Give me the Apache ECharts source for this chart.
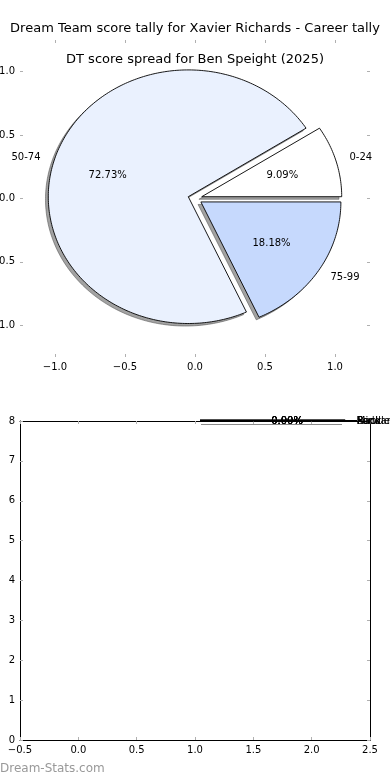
<!DOCTYPE html>
<html>
<head>
<meta charset="utf-8">
<script src="https://cdn.jsdelivr.net/npm/echarts@6/dist/echarts.min.js"></script>
<style>html,body{margin:0;padding:0;background:#fff;}#c{width:390px;height:780px;}</style>
</head>
<body>
<div id="c"></div>
<script>
// ---- data ----
const mainTitle = 'Dream Team score tally for Xavier Richards - Career tally';
const pieTitle = 'DT score spread for Ben Speight (2025)';
const watermark = 'Dream-Stats.com';
const pieCats = ['0-24', '50-74', '75-99'];
const pieValues = [1, 8, 2];
const pieColors = ['#ffffff', '#eaf1fe', '#c6d9fd'];
const topTicks = [-1, -0.5, 0, 0.5, 1];
const bottomCats = ['Forward', 'Middle', 'Ruck', 'Back'];
const bottomValues = [0, 0, 0, 0];

// ---- helpers ----
const FONT = 'DejaVu Sans';
const total = pieValues.reduce((a, b) => a + b, 0);
const angles = [];
let acc = 0;
pieValues.forEach(v => { const t1 = acc / total * 360; acc += v; angles.push([t1, acc / total * 360]); });
const EXPLODE = 0.05;
const fmtNum = v => (v < 0 ? '\u2212' : '') + Math.abs(v).toFixed(1);
const rad = d => d * Math.PI / 180;

function wedgePts(api, i, ox, oy) {
  const [t1, t2] = angles[i];
  const mid = rad((t1 + t2) / 2);
  const cx = EXPLODE * Math.cos(mid) + ox, cy = EXPLODE * Math.sin(mid) + oy;
  const pts = [api.coord([cx, cy])];
  const n = Math.max(2, Math.ceil(t2 - t1));
  for (let k = 0; k <= n; k++) {
    const t = rad(t1 + (t2 - t1) * k / n);
    pts.push(api.coord([cx + Math.cos(t), cy + Math.sin(t)]));
  }
  return pts;
}

const tickStyle = { color: '#b0b0b0', width: 1 };
const spine = { show: true, onZero: false, lineStyle: { color: '#000', width: 1 } };
const noSpine = { show: false, onZero: false };

const chart = echarts.init(document.getElementById('c'), null, { renderer: 'canvas' });
chart.setOption({
  animation: false,
  textStyle: { fontFamily: FONT },
  title: [
    { text: mainTitle, left: 'center', top: 22, padding: 0, textStyle: { fontSize: 13, fontWeight: 'normal', color: '#000', fontFamily: FONT } },
    { text: pieTitle, left: 'center', top: 53, padding: 0, textStyle: { fontSize: 13, fontWeight: 'normal', color: '#000', fontFamily: FONT } },
    { text: watermark, left: 0, top: 763, padding: 0, textStyle: { fontSize: 12, fontWeight: 'normal', color: '#999999', fontFamily: FONT } }
  ],
  grid: [
    { left: 20, right: 20, top: 40, height: 317, containLabel: false, outerBoundsMode: 'none' },
    { left: 20, right: 20, top: 421, height: 319, containLabel: false, outerBoundsMode: 'none' }
  ],
  xAxis: [
    { gridIndex: 0, type: 'value', min: -1.25, max: 1.25, position: 'bottom',
      axisLine: noSpine, splitLine: { show: false },
      axisTick: { inside: true, length: 3, lineStyle: tickStyle, customValues: topTicks },
      axisLabel: { customValues: topTicks, formatter: fmtNum, fontSize: 10, color: '#000', margin: 5, fontFamily: FONT } },
    { gridIndex: 0, type: 'value', min: -1.25, max: 1.25, position: 'top',
      axisLine: noSpine, splitLine: { show: false },
      axisTick: { inside: true, length: 3, lineStyle: tickStyle, customValues: topTicks },
      axisLabel: { show: false } },
    { gridIndex: 1, type: 'value', min: -0.5, max: 2.5, interval: 0.5, position: 'bottom',
      axisLine: spine, splitLine: { show: false },
      axisTick: { inside: true, length: 3, lineStyle: tickStyle },
      axisLabel: { formatter: fmtNum, fontSize: 10, color: '#000', margin: 5, fontFamily: FONT, showMinLabel: true, showMaxLabel: true } },
    { gridIndex: 1, type: 'value', min: -0.5, max: 2.5, interval: 0.5, position: 'top',
      axisLine: spine, splitLine: { show: false },
      axisTick: { inside: true, length: 3, lineStyle: tickStyle },
      axisLabel: { show: false } }
  ],
  yAxis: [
    { gridIndex: 0, type: 'value', min: -1.25, max: 1.25, position: 'left',
      axisLine: noSpine, splitLine: { show: false },
      axisTick: { inside: true, length: 3, lineStyle: tickStyle, customValues: topTicks },
      axisLabel: { customValues: topTicks, formatter: fmtNum, fontSize: 10, color: '#000', margin: 5, fontFamily: FONT } },
    { gridIndex: 0, type: 'value', min: -1.25, max: 1.25, position: 'right',
      axisLine: noSpine, splitLine: { show: false },
      axisTick: { inside: true, length: 3, lineStyle: tickStyle, customValues: topTicks },
      axisLabel: { show: false } },
    { gridIndex: 1, type: 'value', min: 0, max: 8, interval: 1, position: 'left',
      axisLine: spine, splitLine: { show: false },
      axisTick: { inside: true, length: 3, lineStyle: tickStyle },
      axisLabel: { fontSize: 10, color: '#000', margin: 5, fontFamily: FONT, showMinLabel: true, showMaxLabel: true } },
    { gridIndex: 1, type: 'value', min: 0, max: 8, interval: 1, position: 'right',
      axisLine: spine, splitLine: { show: false },
      axisTick: { inside: true, length: 3, lineStyle: tickStyle },
      axisLabel: { show: false } }
  ],
  series: [
    { // shadows
      type: 'custom', xAxisIndex: 0, yAxisIndex: 0, z: 1, clip: false, silent: true,
      data: pieValues.map((v, i) => [i, v]),
      renderItem: (params, api) => ({
        type: 'polygon',
        shape: { points: wedgePts(api, params.dataIndex, -0.02, -0.02) },
        style: { fill: 'rgba(70,70,70,0.5)', stroke: 'rgba(70,70,70,0.5)', lineWidth: 1 }
      })
    },
    { // wedges + labels
      type: 'custom', xAxisIndex: 0, yAxisIndex: 0, z: 2, clip: false, silent: true,
      data: pieValues.map((v, i) => [i, v]),
      renderItem: (params, api) => {
        const i = params.dataIndex;
        const [t1, t2] = angles[i];
        const mid = rad((t1 + t2) / 2);
        const cx = EXPLODE * Math.cos(mid), cy = EXPLODE * Math.sin(mid);
        const pctPt = api.coord([cx + 0.6 * Math.cos(mid), cy + 0.6 * Math.sin(mid)]);
        const lblX = cx + 1.1 * Math.cos(mid);
        const lblPt = api.coord([lblX, cy + 1.1 * Math.sin(mid)]);
        return {
          type: 'group',
          children: [
            { type: 'polygon', shape: { points: wedgePts(api, i, 0, 0) },
              style: { fill: pieColors[i], stroke: '#000', lineWidth: 0.9 } },
            { type: 'text', x: pctPt[0], y: pctPt[1],
              style: { text: (pieValues[i] / total * 100).toFixed(2) + '%', fill: '#000', font: '10px "DejaVu Sans"', align: 'center', verticalAlign: 'middle' } },
            { type: 'text', x: lblPt[0], y: lblPt[1],
              style: { text: pieCats[i], fill: '#000', font: '10px "DejaVu Sans"', align: lblX > 0 ? 'left' : 'right', verticalAlign: 'middle' } }
          ]
        };
      }
    },
    { // degenerate (all-zero) pie squashed onto the top of the lower axes
      type: 'custom', xAxisIndex: 2, yAxisIndex: 2, z: 3, clip: false, silent: true,
      data: bottomValues.map((v, i) => [i, v]),
      renderItem: (params, api) => {
        const i = params.dataIndex;
        const cx = 1.665, r = 0.622, top = 8;
        const left = api.coord([cx - r, top]);
        const right = api.coord([cx + r, top]);
        const lblPt = api.coord([cx + r + 0.1, top]);
        const pctPt = api.coord([cx + 0.2 * r, top]);
        const sh = api.coord([cx + r - 0.03, top]);
        const v = bottomValues[i];
        const tot = bottomValues.reduce((a, b) => a + b, 0);
        const pct = (tot > 0 ? v / tot * 100 : 0).toFixed(2) + '%';
        return {
          type: 'group',
          children: [
            { type: 'line', shape: { x1: left[0] + 1, y1: left[1] + 3.5, x2: sh[0], y2: sh[1] + 3.5 },
              style: { stroke: '#8a8a8a', lineWidth: 1.2 } },
            { type: 'line', shape: { x1: left[0], y1: left[1] - 0.5, x2: right[0], y2: right[1] - 0.5 },
              style: { stroke: '#000', lineWidth: 1.6 } },
            { type: 'line', shape: { x1: right[0], y1: right[1] - 0.5, x2: lblPt[0], y2: lblPt[1] - 0.5 },
              style: { stroke: '#000', lineWidth: 1 } },
            { type: 'text', x: pctPt[0], y: pctPt[1],
              style: { text: pct, fill: '#000', font: '10px "DejaVu Sans"', align: 'center', verticalAlign: 'middle' } },
            { type: 'text', x: lblPt[0], y: lblPt[1],
              style: { text: bottomCats[i], fill: '#000', font: '10px "DejaVu Sans"', align: 'left', verticalAlign: 'middle' } }
          ]
        };
      }
    }
  ]
});
</script>
</body>
</html>
